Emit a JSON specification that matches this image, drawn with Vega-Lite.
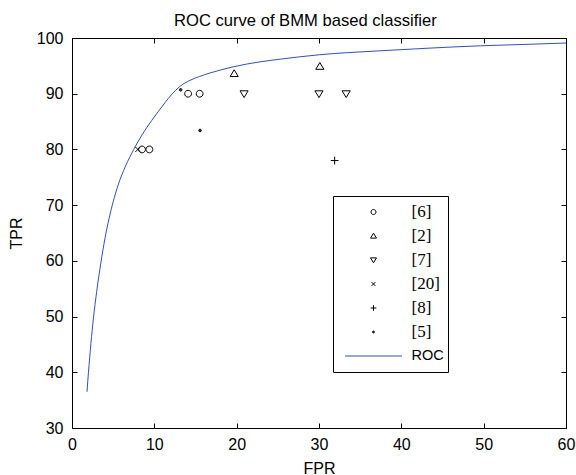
{
  "$schema": "https://vega.github.io/schema/vega-lite/v6.json",
  "width": 494,
  "height": 390,
  "autosize": {"type": "none"},
  "padding": {"left": 72, "top": 38, "right": 10, "bottom": 47},
  "background": "white",
  "config": {
    "view": {"stroke": "black", "strokeWidth": 1},
    "font": "Liberation Sans",
    "axis": {
      "grid": false,
      "labelFont": "Liberation Sans",
      "labelFontSize": 16,
      "labelColor": "black",
      "titleFont": "Liberation Sans",
      "titleFontSize": 16,
      "titleFontWeight": "normal",
      "titleColor": "black",
      "domainColor": "black",
      "tickColor": "black",
      "tickSize": -5,
      "labelFlush": false,
      "labelOverlap": false,
      "labelBound": false
    }
  },
  "title": {
    "text": "ROC curve of BMM based classifier",
    "font": "Liberation Sans",
    "fontSize": 16.6,
    "fontWeight": "normal",
    "color": "black",
    "anchor": "start",
    "frame": "group",
    "offset": 0,
    "dx": 102
  },
  "layer": [
    {
      "data": {
        "values": [
          {"fpr": 1.82, "tpr": 36.5},
          {"fpr": 2.0, "tpr": 40.0},
          {"fpr": 2.3, "tpr": 45.2},
          {"fpr": 2.6, "tpr": 49.7},
          {"fpr": 3.0, "tpr": 54.5},
          {"fpr": 3.5, "tpr": 59.6},
          {"fpr": 4.0, "tpr": 64.0},
          {"fpr": 4.5, "tpr": 67.6},
          {"fpr": 5.0, "tpr": 70.6},
          {"fpr": 5.6, "tpr": 73.6},
          {"fpr": 6.5, "tpr": 77.0},
          {"fpr": 7.5, "tpr": 80.0},
          {"fpr": 8.5, "tpr": 82.6},
          {"fpr": 9.68, "tpr": 85.2},
          {"fpr": 10.5, "tpr": 86.85},
          {"fpr": 11.3, "tpr": 88.4},
          {"fpr": 12.1, "tpr": 89.85},
          {"fpr": 13.1, "tpr": 91.3},
          {"fpr": 14.33, "tpr": 92.4},
          {"fpr": 15.5, "tpr": 93.1},
          {"fpr": 16.76, "tpr": 93.72},
          {"fpr": 18.2, "tpr": 94.32},
          {"fpr": 19.56, "tpr": 94.82},
          {"fpr": 22.83, "tpr": 95.72},
          {"fpr": 25.3, "tpr": 96.2},
          {"fpr": 30.1, "tpr": 97.0},
          {"fpr": 37.4, "tpr": 97.7},
          {"fpr": 43.0, "tpr": 98.15},
          {"fpr": 49.6, "tpr": 98.6},
          {"fpr": 55.0, "tpr": 98.85},
          {"fpr": 60.0, "tpr": 99.1}
        ]
      },
      "mark": {"type": "line", "color": "#3050b8", "strokeWidth": 1, "interpolate": "monotone", "clip": true},
      "encoding": {
        "x": {
          "field": "fpr", "type": "quantitative",
          "scale": {"domain": [0, 60], "nice": false, "zero": false},
          "axis": {"orient": "bottom", "title": "FPR", "values": [0, 10, 20, 30, 40, 50, 60], "labelPadding": 13, "titlePadding": 8}
        },
        "y": {
          "field": "tpr", "type": "quantitative",
          "scale": {"domain": [30, 100], "nice": false, "zero": false},
          "axis": {"orient": "left", "title": "TPR", "values": [30, 40, 50, 60, 70, 80, 90, 100], "labelPadding": 14, "titlePadding": 12}
        }
      }
    },
    {
      "data": {
        "values": [
          {"series": "[6]", "fpr": 8.5, "tpr": 80},
          {"series": "[6]", "fpr": 9.4, "tpr": 80},
          {"series": "[6]", "fpr": 14.1, "tpr": 90},
          {"series": "[6]", "fpr": 15.5, "tpr": 90},
          {"series": "[2]", "fpr": 19.7, "tpr": 93.6},
          {"series": "[2]", "fpr": 30.1, "tpr": 94.9},
          {"series": "[7]", "fpr": 20.9, "tpr": 90},
          {"series": "[7]", "fpr": 30.0, "tpr": 90},
          {"series": "[7]", "fpr": 33.3, "tpr": 90},
          {"series": "[20]", "fpr": 8.0, "tpr": 80},
          {"series": "[8]", "fpr": 31.9, "tpr": 78},
          {"series": "[5]", "fpr": 13.2, "tpr": 90.7},
          {"series": "[5]", "fpr": 15.55, "tpr": 83.4}
        ]
      },
      "mark": {"type": "point", "filled": false, "strokeWidth": 1, "size": 6010, "opacity": 1},
      "encoding": {
        "x": {
          "field": "fpr", "type": "quantitative",
          "scale": {"domain": [0, 60], "nice": false, "zero": false},
          "axis": {"orient": "top", "title": null, "labels": false, "domain": false, "values": [0, 10, 20, 30, 40, 50, 60]}
        },
        "y": {
          "field": "tpr", "type": "quantitative",
          "scale": {"domain": [30, 100], "nice": false, "zero": false},
          "axis": {"orient": "right", "title": null, "labels": false, "domain": false, "values": [30, 40, 50, 60, 70, 80, 90, 100]}
        },
        "color": {
          "field": "series", "type": "nominal",
          "scale": {
            "domain": ["[6]", "[2]", "[7]", "[20]", "[8]", "[5]", "ROC"],
            "range": ["black", "black", "black", "black", "black", "black", "#3050b8"]
          },
          "legend": {
            "title": null,
            "orient": "none",
            "legendX": 261,
            "legendY": 158,
            "padding": 4,
            "strokeColor": "black",
            "fillColor": "white",
            "symbolSize": 3249,
            "symbolStrokeWidth": 1,
            "symbolOpacity": 1,
            "symbolOffset": 7.5,
            "labelOffset": 9,
            "clipHeight": 24,
            "rowPadding": 0,
            "labelFont": {"expr": "datum.value === 'ROC' ? 'Liberation Sans' : 'Liberation Serif'"},
            "labelFontSize": {"expr": "datum.value === 'ROC' ? 14.5 : 17"},
            "labelColor": "black",
            "labelLimit": 200,
            "encode": {"entries": {"width": {"value": 116}}}
          }
        },
        "shape": {
          "field": "series", "type": "nominal",
          "scale": {
            "domain": ["[6]", "[2]", "[7]", "[20]", "[8]", "[5]", "ROC"],
            "range": [
              "M0.088,0A0.088,0.088,0,1,1,-0.088,0A0.088,0.088,0,1,1,0.088,0Z",
              "M0,-0.1L0.105,0.075L-0.105,0.075Z",
              "M0,0.1L0.105,-0.075L-0.105,-0.075Z",
              "M-0.065,-0.065L0.065,0.065M-0.065,0.065L0.065,-0.065",
              "M-0.1,0L0.1,0M0,-0.1L0,0.1",
              "M0.035,0A0.035,0.035,0,1,1,-0.035,0A0.035,0.035,0,1,1,0.035,0ZM0.015,0A0.015,0.015,0,1,1,-0.015,0A0.015,0.015,0,1,1,0.015,0Z",
              "M-1,0L1,0"
            ]
          },
          "legend": {
            "title": null,
            "orient": "none",
            "legendX": 261,
            "legendY": 158,
            "padding": 4,
            "strokeColor": "black",
            "fillColor": "white",
            "symbolSize": 3249,
            "symbolStrokeWidth": 1,
            "symbolOpacity": 1,
            "symbolOffset": 7.5,
            "labelOffset": 9,
            "clipHeight": 24,
            "rowPadding": 0,
            "labelFont": {"expr": "datum.value === 'ROC' ? 'Liberation Sans' : 'Liberation Serif'"},
            "labelFontSize": {"expr": "datum.value === 'ROC' ? 14.5 : 17"},
            "labelColor": "black",
            "labelLimit": 200,
            "encode": {"entries": {"width": {"value": 116}}}
          }
        }
      }
    }
  ],
  "resolve": {"axis": {"x": "independent", "y": "independent"}}
}
